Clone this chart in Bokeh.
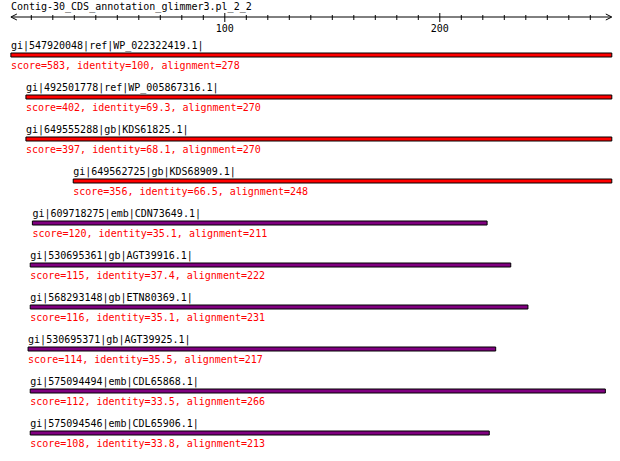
from bokeh.plotting import figure
from bokeh.models import ColumnDataSource, Range1d, Arrow, OpenHead
from bokeh.core.properties import value
from bokeh.embed import file_html
from bokeh.resources import INLINE

# ---------------- data ----------------
title_text = "Contig-30_CDS_annotation_glimmer3.pl_2_2"
query_start = 1
query_length = 280
hits = [
    "gi|547920048|ref|WP_022322419.1|",
    "gi|492501778|ref|WP_005867316.1|",
    "gi|649555288|gb|KDS61825.1|",
    "gi|649562725|gb|KDS68909.1|",
    "gi|609718275|emb|CDN73649.1|",
    "gi|530695361|gb|AGT39916.1|",
    "gi|568293148|gb|ETN80369.1|",
    "gi|530695371|gb|AGT39925.1|",
    "gi|575094494|emb|CDL65868.1|",
    "gi|575094546|emb|CDL65906.1|",
]
starts = [1, 8, 8, 30, 11, 10, 10, 9, 10, 10]
ends = [280, 280, 280, 280, 222, 233, 241, 226, 277, 223]
scores = [583, 402, 397, 356, 120, 115, 116, 114, 112, 108]
identities = [100, 69.3, 68.1, 66.5, 35.1, 37.4, 35.1, 35.5, 33.5, 33.8]
alignments = [278, 270, 270, 248, 211, 222, 231, 217, 266, 213]
major_ticks = [100, 200]
major_tick_labels = ["100", "200"]
minor_ticks = [10, 20, 30, 40, 50, 60, 70, 80, 90,
               110, 120, 130, 140, 150, 160, 170, 180, 190,
               210, 220, 230, 240, 250, 260, 270]

# ---------------- layout / style ----------------
W, H = 620, 461
PX_PER_UNIT = 2.15
X_ORIGIN = 9.3          # canvas px of sequence position 0
ROW0, ROW_STEP = 54.5, 42
RULER_Y = 16.5
TEXT_SHIFT = -4         # compensates the renderer's baseline placement
TITLE_Y = 9.5 + TEXT_SHIFT
FONT = value("DejaVu Sans Mono")
FS = "10px"

def hit_color(s):
    return "#FF0000" if s >= 200 else "#800080"

n = len(hits)
src = ColumnDataSource(dict(
    hit=hits,
    left=[s - 0.5 for s in starts],
    right=ends,
    yc=[ROW0 + i * ROW_STEP for i in range(n)],
    label_y=[ROW0 + i * ROW_STEP - 5.5 + TEXT_SHIFT for i in range(n)],
    score_y=[ROW0 + i * ROW_STEP + 14 + TEXT_SHIFT for i in range(n)],
    color=[hit_color(s) for s in scores],
    score_text=[f"score={s}, identity={i:g}, alignment={a}"
                for s, i, a in zip(scores, identities, alignments)],
))

p = figure(width=W, height=H,
           x_range=Range1d(-X_ORIGIN / PX_PER_UNIT, (W - X_ORIGIN) / PX_PER_UNIT),
           y_range=Range1d(H, 0),
           x_axis_location=None, y_axis_location=None,
           output_backend="svg", toolbar_location=None,
           min_border=0, outline_line_color=None, title=None)
p.grid.visible = False
p.background_fill_color = "white"
p.border_fill_color = "white"

# title
p.text(x=[query_start - 0.5], y=[TITLE_Y], text=[title_text],
       text_font=FONT, text_font_size=FS, text_color="black",
       text_align="left", text_baseline="alphabetic")

# ruler
p.add_layout(Arrow(start=OpenHead(size=6, line_width=1, line_color="black"),
                   end=OpenHead(size=6, line_width=1, line_color="black"),
                   x_start=query_start - 0.5, y_start=RULER_Y,
                   x_end=query_length, y_end=RULER_Y,
                   line_width=1, line_color="black"))
p.segment(x0=minor_ticks, x1=minor_ticks,
          y0=[RULER_Y - 2] * len(minor_ticks), y1=[RULER_Y + 3] * len(minor_ticks),
          line_color="black", line_width=1)
p.segment(x0=major_ticks, x1=major_ticks,
          y0=[RULER_Y - 4] * len(major_ticks), y1=[RULER_Y + 5] * len(major_ticks),
          line_color="black", line_width=1)
p.text(x=major_ticks, y=[RULER_Y + 14.5 + TEXT_SHIFT] * len(major_ticks), text=major_tick_labels,
       text_font=FONT, text_font_size=FS, text_color="black",
       text_align="center", text_baseline="alphabetic")

# hits
p.hbar(y="yc", left="left", right="right", height=4, source=src,
       fill_color="color", line_color="black", line_width=1)
p.text(x="left", y="label_y", text="hit", source=src,
       text_font=FONT, text_font_size=FS, text_color="black",
       text_align="left", text_baseline="alphabetic")
p.text(x="left", y="score_y", text="score_text", source=src,
       text_font=FONT, text_font_size=FS, text_color="#FF0000",
       text_align="left", text_baseline="alphabetic")

open("out.html", "w").write(file_html(p, INLINE))
